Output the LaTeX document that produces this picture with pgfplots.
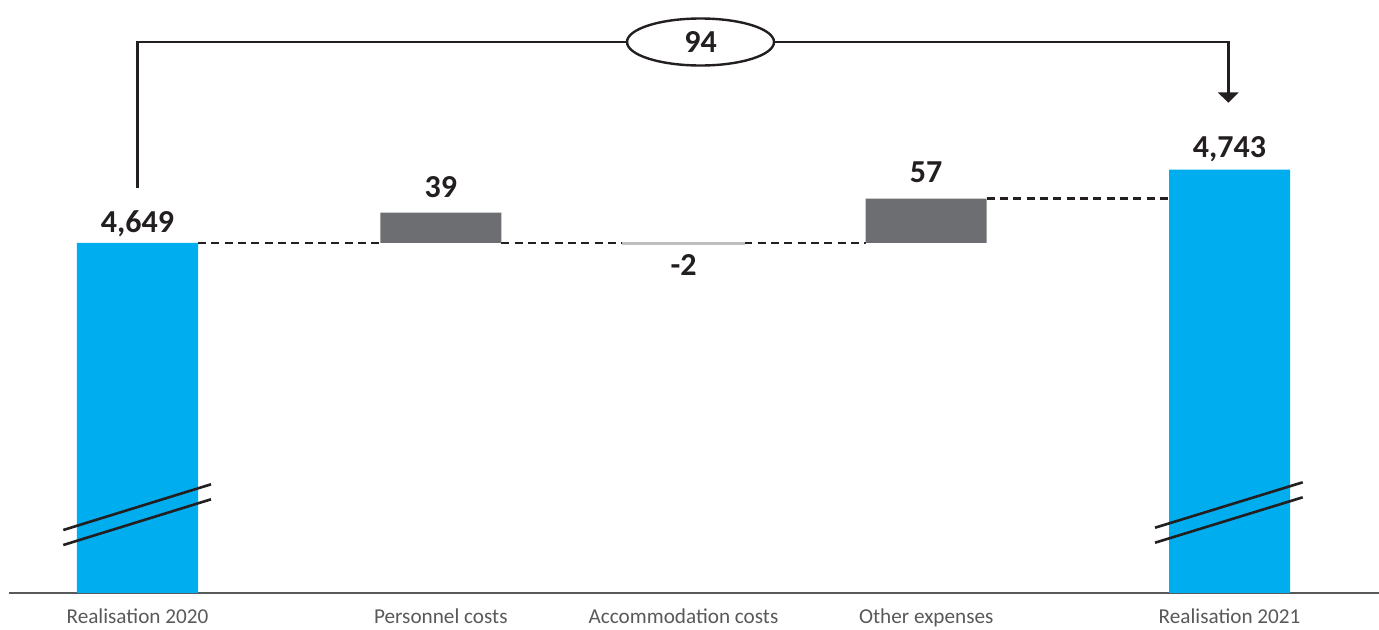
\documentclass[border=0pt]{standalone}
\usepackage{pgfplots}
\pgfplotsset{compat=1.18}
\usepackage{fontspec}
\setmainfont{Carlito}
\usetikzlibrary{shapes.geometric}

\definecolor{barblue}{RGB}{0,174,239}
\definecolor{bargrey}{RGB}{109,110,113}
\definecolor{barlight}{RGB}{188,190,192}
\definecolor{ink}{RGB}{35,31,32}
\definecolor{labelgrey}{RGB}{88,89,91}

\begin{document}
\begin{tikzpicture}[
  connector/.style={ink, line width=1.3pt, dash pattern=on 4pt off 2.67pt},
  vlabel/.style={font=\fontsize{16}{18}\selectfont\bfseries, text=ink, inner sep=0pt},
]
\useasboundingbox (-4.5pt,-18pt) rectangle (685pt,296.5pt);
\begin{axis}[
  at={(0,0)}, anchor=south west,
  scale only axis, width=685pt, height=291.5pt,
  xmin=-0.5295, xmax=5.1159,
  ymin=4200, ymax=4947.9,
  ybar stacked, bar width=60.5pt,
  axis x line=bottom, axis y line=none,
  axis line style={-, draw=labelgrey, line width=0.75pt},
  xtick={0,1.25,2.25,3.25,4.5},
  xticklabels={Realisation 2020, Personnel costs, Accommodation costs, Other expenses, Realisation 2021},
  major tick length=0pt,
  xticklabel style={font=\fontsize{10.6}{12}\selectfont, text=labelgrey, yshift=-4.5pt},
]
% invisible base the changes float on
\addplot[draw=none, fill=none] table[row sep=\\]{
x y\\ 0 0\\ 1.25 4649\\ 2.25 4647\\ 3.25 4649\\ 4.5 0\\};
% realisation totals
\addplot[fill=barblue, draw=none] table[row sep=\\]{
x y\\ 0 4649\\ 1.25 0\\ 2.25 0\\ 3.25 0\\ 4.5 4743\\};
% increases
\addplot[fill=bargrey, draw=none] table[row sep=\\]{
x y\\ 0 0\\ 1.25 39\\ 2.25 0\\ 3.25 57\\ 4.5 0\\};
% decrease
\addplot[fill=barlight, draw=barlight, line width=0.8pt] table[row sep=\\]{
x y\\ 0 0\\ 1.25 0\\ 2.25 2\\ 3.25 0\\ 4.5 0\\};

% value labels
\node[vlabel, anchor=base, yshift=5pt]   at (axis cs:0,4649)    {4,649};
\node[vlabel, anchor=base, yshift=7.5pt] at (axis cs:1.25,4688) {39};
\node[vlabel, anchor=north, yshift=-5.8pt] at (axis cs:2.25,4649) {-2};
\node[vlabel, anchor=base, yshift=8pt]   at (axis cs:3.25,4706) {57};
\node[vlabel, anchor=base, yshift=6.3pt] at (axis cs:4.5,4743)  {4,743};

% dashed connectors between bar tops
\draw[connector] (axis cs:0.2493,4649) -- (axis cs:1.0007,4649);
\draw[connector] (axis cs:1.4993,4649) -- (axis cs:1.9993,4649);
\draw[connector] (axis cs:2.5007,4649) -- (axis cs:3.0007,4649);
\draw[connector] (axis cs:3.4993,4706) -- (axis cs:4.2507,4706);
\end{axis}

% annotations, one unit per pixel, origin at the top left corner
\begin{scope}[x=0.5pt, y=-0.5pt, shift={(-4.5pt,296.5pt)}]
  % total change bracket
  \draw[ink, line width=1.2pt] (137.3,188.3) -- (137.3,42) -- (1228.3,42) -- (1228.3,93);
  \fill[ink] (1217.7,92.3) -- (1238.7,92.3) -- (1228.3,102.7) -- cycle;
  \node[draw=ink, fill=white, line width=1.2pt, ellipse, inner sep=0pt,
        minimum width=73.5pt, minimum height=23.5pt,
        font=\fontsize{16}{18}\selectfont\bfseries, text=ink] at (700.5,42) {94};
  % axis break marks
  \draw[ink, line width=1.3pt] (63.3,530) -- (211,484.3);
  \draw[ink, line width=1.3pt] (63.3,545) -- (211,499.3);
  \draw[ink, line width=1.3pt] (1155,527.7) -- (1302.7,482.3);
  \draw[ink, line width=1.3pt] (1155,542.7) -- (1302.7,497.3);
\end{scope}
\end{tikzpicture}
\end{document}
